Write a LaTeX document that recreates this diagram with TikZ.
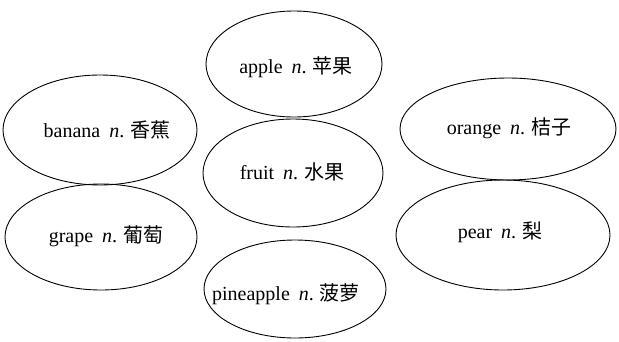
\documentclass[tikz,border=0pt]{standalone}
\usepackage{fontspec}
\setmainfont{Liberation Serif}
\newfontfamily\cjk{Noto Sans CJK SC}
\newcommand\wordsep{\hspace{0.45em}}
\newcommand\cjksep{\hspace{0.3em}}

\begin{document}
\begin{tikzpicture}[x=1pt, y=-1pt, line width=0.9pt,
    word/.style={inner sep=0pt, font=\fontsize{20}{24}\selectfont}]
    \useasboundingbox (0,0) rectangle (619,341);
    % outlines
    \draw (294,64) ellipse [x radius=88, y radius=53];
    \draw (100,130) ellipse [x radius=97, y radius=55];
    \draw (508,129) ellipse [x radius=108, y radius=51];
    \draw (293,173) ellipse [x radius=90, y radius=54];
    \draw (101,237) ellipse [x radius=96, y radius=53];
    \draw (503,235) ellipse [x radius=107, y radius=55];
    \draw (295,289) ellipse [x radius=91, y radius=49];
    % words
    \node[word] (apple) at (296,67) {apple\wordsep\textit{n}.\cjksep{\cjk 苹果}};
    \node[word] (banana) at (107,130) {banana\wordsep\textit{n}.\cjksep{\cjk 香蕉}};
    \node[word] (orange) at (509,128) {orange\wordsep\textit{n}.\cjksep{\cjk 桔子}};
    \node[word] (fruit) at (292,172) {fruit\wordsep\textit{n}.\cjksep{\cjk 水果}};
    \node[word] (grape) at (106,236) {grape\wordsep\textit{n}.\cjksep{\cjk 葡萄}};
    \node[word] (pear) at (500,232) {pear\wordsep\textit{n}.\cjksep{\cjk 梨}};
    \node[word] (pineapple) at (286,294) {pineapple\wordsep\textit{n}.\cjksep{\cjk 菠萝}};
\end{tikzpicture}
\end{document}
